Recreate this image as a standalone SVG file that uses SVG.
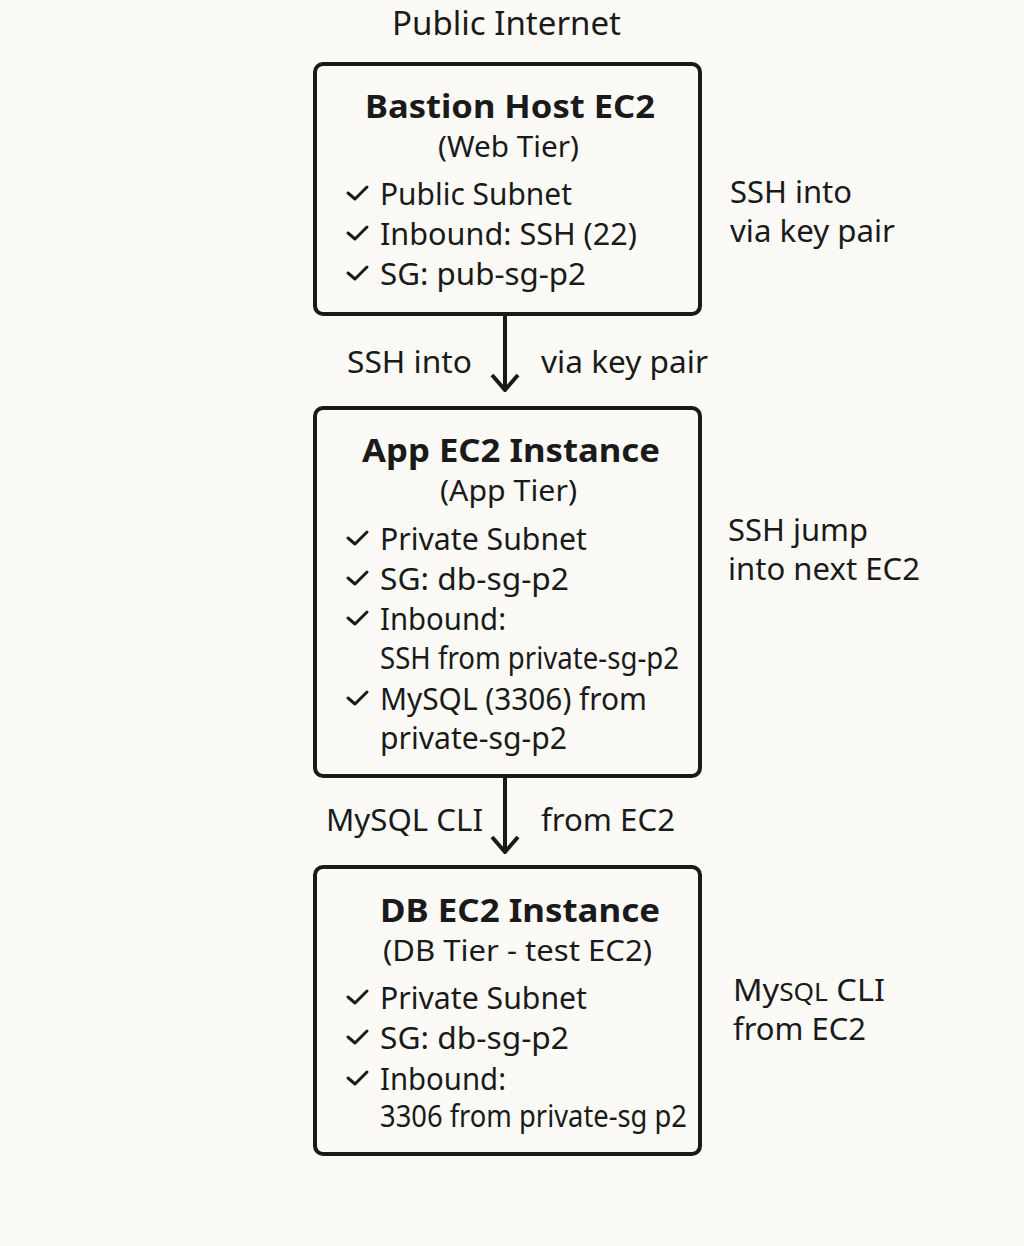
<svg xmlns="http://www.w3.org/2000/svg" width="1024" height="1246" viewBox="0 0 1024 1246">
<style>
.bg{fill:#fbfaf6}
.box{fill:#fbfaf6;stroke:#1a1a1a;stroke-width:4}
text{font-family:"Noto Sans","Open Sans","DejaVu Sans",sans-serif;fill:#1a1a1a}
.title{font-size:33px;font-weight:bold}
.sub{font-size:29px}
.item{font-size:30px}
.lbl{font-size:31px}
.conn{stroke:#1a1a1a;stroke-width:4;fill:none}
.chk{fill:none;stroke:#1a1a1a;stroke-width:3;stroke-linecap:round;stroke-linejoin:round}
</style>
<defs>
<marker id="arr" viewBox="0 0 20 30" refX="18" refY="15" markerWidth="20" markerHeight="30" markerUnits="userSpaceOnUse" orient="auto">
<path d="M3,2 L18,15 L3,28" fill="none" stroke="#1a1a1a" stroke-width="4"/>
</marker>
<path id="ck" class="chk" d="M0,6 L7,12 L19,0"/>
</defs>
<rect class="bg" width="1024" height="1246"/>
<text class="sub" x="392" y="35" textLength="229" lengthAdjust="spacingAndGlyphs" style="font-size:32px">Public Internet</text>

<g id="connectors">
<line class="conn" x1="505" y1="316" x2="505" y2="390" marker-end="url(#arr)"/>
<line class="conn" x1="505" y1="778" x2="505" y2="852" marker-end="url(#arr)"/>
<text class="lbl" x="347" y="373" textLength="125" lengthAdjust="spacingAndGlyphs">SSH into</text>
<text class="lbl" x="541" y="373" textLength="167" lengthAdjust="spacingAndGlyphs">via key pair</text>
<text class="lbl" x="326" y="831" textLength="157" lengthAdjust="spacingAndGlyphs">MySQL CLI</text>
<text class="lbl" x="541" y="831" textLength="134" lengthAdjust="spacingAndGlyphs">from EC2</text>
</g>

<g id="bastion">
<rect class="box" x="315" y="64" width="385" height="250" rx="8"/>
<text class="title" x="365" y="118" textLength="290" lengthAdjust="spacingAndGlyphs">Bastion Host EC2</text>
<text class="sub" x="438" y="157" textLength="141" lengthAdjust="spacingAndGlyphs">(Web Tier)</text>
<use href="#ck" x="348" y="187"/><text class="item" x="380" y="205" textLength="192" lengthAdjust="spacingAndGlyphs">Public Subnet</text>
<use href="#ck" x="348" y="227"/><text class="item" x="380" y="245" textLength="257" lengthAdjust="spacingAndGlyphs">Inbound: SSH (22)</text>
<use href="#ck" x="348" y="267"/><text class="item" x="380" y="285" textLength="206" lengthAdjust="spacingAndGlyphs">SG: pub-sg-p2</text>
</g>

<g id="app">
<rect class="box" x="315" y="408" width="385" height="368" rx="8"/>
<text class="title" x="362" y="462" textLength="298" lengthAdjust="spacingAndGlyphs">App EC2 Instance</text>
<text class="sub" x="440" y="501" textLength="137" lengthAdjust="spacingAndGlyphs">(App Tier)</text>
<use href="#ck" x="348" y="532"/><text class="item" x="380" y="550" textLength="207" lengthAdjust="spacingAndGlyphs">Private Subnet</text>
<use href="#ck" x="348" y="572"/><text class="item" x="380" y="590" textLength="189" lengthAdjust="spacingAndGlyphs">SG: db-sg-p2</text>
<use href="#ck" x="348" y="612"/><text class="item" x="380" y="630" textLength="126" lengthAdjust="spacingAndGlyphs">Inbound:</text>
<text class="item" x="380" y="669" textLength="299" lengthAdjust="spacingAndGlyphs">SSH from private-sg-p2</text>
<use href="#ck" x="348" y="692"/><text class="item" x="380" y="710" textLength="267" lengthAdjust="spacingAndGlyphs">MySQL (3306) from</text>
<text class="item" x="380" y="749" textLength="187" lengthAdjust="spacingAndGlyphs">private-sg-p2</text>
</g>

<g id="db">
<rect class="box" x="315" y="867" width="385" height="287" rx="8"/>
<text class="title" x="380" y="922" textLength="280" lengthAdjust="spacingAndGlyphs">DB EC2 Instance</text>
<text class="sub" x="383" y="961" textLength="269" lengthAdjust="spacingAndGlyphs">(DB Tier - test EC2)</text>
<use href="#ck" x="348" y="991"/><text class="item" x="380" y="1009" textLength="207" lengthAdjust="spacingAndGlyphs">Private Subnet</text>
<use href="#ck" x="348" y="1031"/><text class="item" x="380" y="1049" textLength="189" lengthAdjust="spacingAndGlyphs">SG: db-sg-p2</text>
<use href="#ck" x="348" y="1072"/><text class="item" x="380" y="1090" textLength="126" lengthAdjust="spacingAndGlyphs">Inbound:</text>
<text class="item" x="380" y="1127" textLength="307" lengthAdjust="spacingAndGlyphs">3306 from private-sg p2</text>
</g>

<g id="side-labels">
<text class="lbl" x="730" y="203" textLength="122" lengthAdjust="spacingAndGlyphs">SSH into</text>
<text class="lbl" x="730" y="242" textLength="165" lengthAdjust="spacingAndGlyphs">via key pair</text>
<text class="lbl" x="728" y="541" textLength="140" lengthAdjust="spacingAndGlyphs">SSH jump</text>
<text class="lbl" x="728" y="580" textLength="192" lengthAdjust="spacingAndGlyphs">into next EC2</text>
<text class="lbl" x="733" y="1001" textLength="152" lengthAdjust="spacingAndGlyphs">My<tspan style="font-size:25px">SQL</tspan> CLI</text>
<text class="lbl" x="733" y="1040" textLength="133" lengthAdjust="spacingAndGlyphs">from EC2</text>
</g>
</svg>
